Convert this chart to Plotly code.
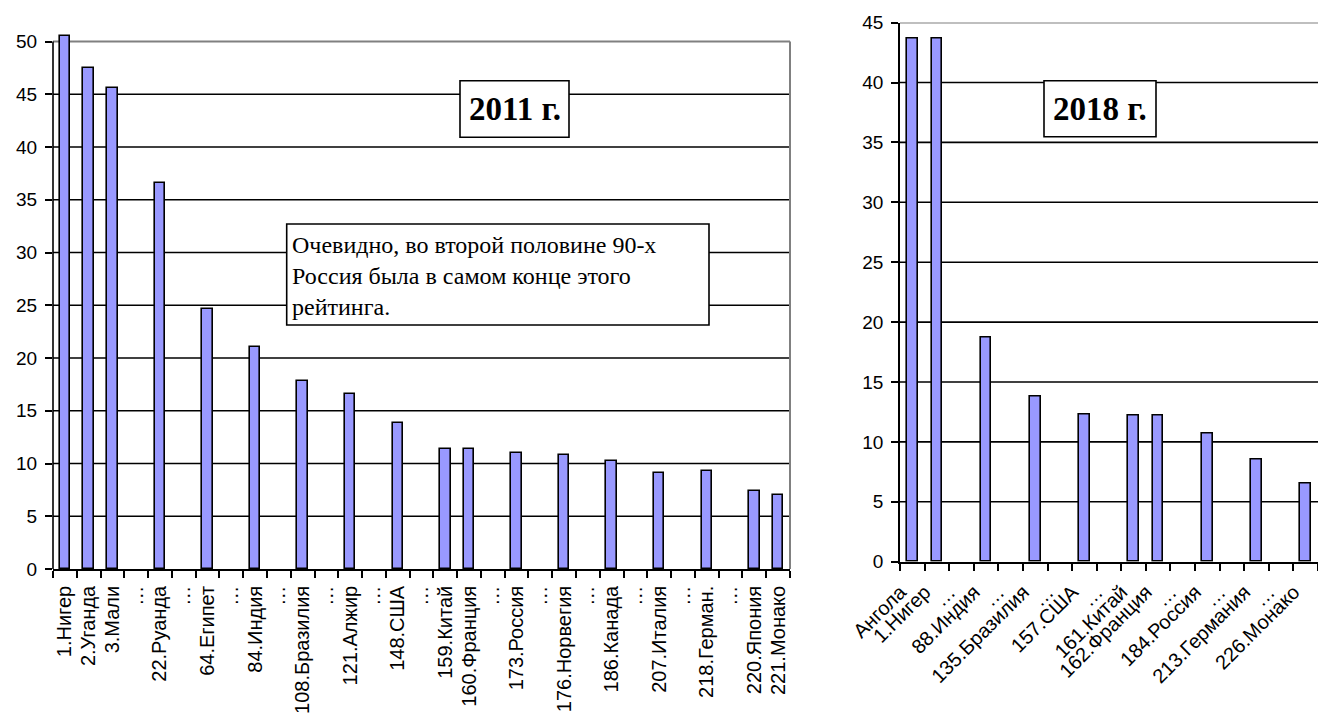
import plotly.graph_objects as go

W, H = 1318, 720

# ---------------- data ----------------
cats_2011 = ["1.Нигер", "2.Уганда", "3.Мали", "…", "22.Руанда", "…", "64.Египет", "…",
             "84.Индия", "…", "108.Бразилия", "…", "121.Алжир", "…", "148.США", "…",
             "159.Китай", "160.Франция", "…", "173.Россия", "…", "176.Норвегия", "…",
             "186.Канада", "…", "207.Италия", "…", "218.Герман.", "…", "220.Япония", "221.Монако"]
vals_2011 = [50.5, 47.5, 45.6, None, 36.6, None, 24.6, None,
             21.0, None, 17.8, None, 16.6, None, 13.8, None,
             11.4, 11.4, None, 11.0, None, 10.8, None,
             10.2, None, 9.1, None, 9.3, None, 7.4, 7.0]

cats_2018 = ["Ангола", "1.Нигер", "…", "88.Индия", "…", "135.Бразилия", "…", "157.США", "…",
             "161.Китай", "162.Франция", "…", "184.Россия", "…", "213.Германия", "…", "226.Монако"]
vals_2018 = [43.7, 43.7, None, 18.7, None, 13.8, None, 12.3, None,
             12.2, 12.2, None, 10.7, None, 8.5, None, 6.5]

yticks_2011 = list(range(0, 51, 5))
yticks_2018 = list(range(0, 46, 5))

label_2011 = "2011 г."
label_2018 = "2018 г."
note_text = "Очевидно, во второй половине 90-х<br>Россия была в самом конце этого<br>рейтинга."

# ---------------- styling helpers ----------------
BAR = "#9999FF"
SANS = "Liberation Sans, Arial, sans-serif"
SERIF = "Liberation Serif, Times New Roman, serif"

def px_x(p):
    return p / W

def px_y(p):
    return 1 - p / H

x1 = list(range(len(cats_2011)))
x2 = list(range(len(cats_2018)))

fig = go.Figure()
fig.add_trace(go.Bar(x=x1, y=vals_2011, width=0.44, xaxis="x", yaxis="y",
                     marker=dict(color=BAR, line=dict(color="black", width=1.6)),
                     hoverinfo="skip"))
fig.add_trace(go.Bar(x=x2, y=vals_2018, width=0.43, xaxis="x2", yaxis="y2",
                     marker=dict(color=BAR, line=dict(color="black", width=1.6)),
                     hoverinfo="skip"))

# left chart geometry (pixels)
L_left, L_right, L_zero, L_top_val = 53, 790, 569, 50.7
L_ppu = (569 - 41.5) / 50.0
L_top_px = L_zero - L_top_val * L_ppu
# right chart geometry
R_left, R_right, R_zero, R_top = 900, 1318, 561.7, 22.6

def xaxis_common(n, labels, angle):
    return dict(
        range=[-0.5, n - 0.5],
        tickmode="array", tickvals=list(range(n)), ticktext=labels,
        ticks="", tickangle=angle, showgrid=False, zeroline=False,
        showline=True, linecolor="black", linewidth=1.6,
        tickfont=dict(family=SANS, size=20, color="black"),
        minor=dict(tickmode="array", tickvals=[i - 0.5 for i in range(n + 1)],
                   ticks="outside", ticklen=7, tickcolor="black", tickwidth=1.5,
                   showgrid=False),
        automargin=False, fixedrange=True,
    )

def yaxis_common(top, vals):
    return dict(
        range=[0, top], tickmode="array", tickvals=vals,
        ticks="outside", ticklen=7, tickcolor="black", tickwidth=1.5,
        showgrid=False, zeroline=False,
        tickfont=dict(family=SANS, size=19, color="black"),
        ticklabelstandoff=4, automargin=False, fixedrange=True,
    )

fig.update_layout(
    width=W, height=H,
    margin=dict(l=0, r=0, t=0, b=0),
    paper_bgcolor="white", plot_bgcolor="white",
    showlegend=False, bargap=0,
    xaxis=dict(domain=[px_x(L_left), px_x(L_right)], anchor="y",
               ticklabelstandoff=7, **xaxis_common(len(cats_2011), cats_2011, -90)),
    yaxis=dict(domain=[px_y(L_zero), px_y(L_top_px)], anchor="x",
               showline=False, **yaxis_common(L_top_val, yticks_2011)),
    xaxis2=dict(domain=[px_x(R_left), px_x(R_right)], anchor="y2",
                ticklabelstandoff=9, ticklabelshift=-12,
                **xaxis_common(len(cats_2018), cats_2018, -45)),
    yaxis2=dict(domain=[px_y(R_zero), px_y(R_top)], anchor="x2",
                showline=True, linecolor="black", linewidth=1.6,
                **yaxis_common(45, yticks_2018)),
)

shapes = []
# gridlines (black) with grey top border, drawn below the bars
for v in yticks_2011[1:]:
    col = "#808080" if v == yticks_2011[-1] else "black"
    shapes.append(dict(type="line", xref="x domain", yref="y", x0=0, x1=1, y0=v, y1=v,
                       line=dict(color=col, width=2 if col != "black" else 1.6), layer="below"))
for v in yticks_2018[1:]:
    col = "#808080" if v == yticks_2018[-1] else "black"
    shapes.append(dict(type="line", xref="x2 domain", yref="y2", x0=0, x1=1, y0=v, y1=v,
                       line=dict(color=col, width=2 if col != "black" else 1.6), layer="below"))
shapes += [
    # left chart: grey right border, black left axis line up to 50
    dict(type="line", xref="x domain", yref="y", x0=1, x1=1, y0=0, y1=yticks_2011[-1],
         line=dict(color="#808080", width=2), layer="below"),
    dict(type="line", xref="x domain", yref="y", x0=0, x1=0, y0=0, y1=yticks_2011[-1],
         line=dict(color="black", width=1.6), layer="above"),
    # annotation boxes
    dict(type="rect", xref="paper", yref="paper",
         x0=px_x(460), x1=px_x(569), y0=px_y(137.3), y1=px_y(80.7),
         fillcolor="white", line=dict(color="black", width=1.6), layer="above"),
    dict(type="rect", xref="paper", yref="paper",
         x0=px_x(1044), x1=px_x(1156), y0=px_y(136.7), y1=px_y(80.7),
         fillcolor="white", line=dict(color="black", width=1.6), layer="above"),
    dict(type="rect", xref="paper", yref="paper",
         x0=px_x(286.7), x1=px_x(709), y0=px_y(325), y1=px_y(224),
         fillcolor="white", line=dict(color="black", width=1.6), layer="above"),
]
fig.update_layout(shapes=shapes)

fig.add_annotation(xref="paper", yref="paper", x=px_x(514.5), y=px_y(109),
                   text="<b>" + label_2011 + "</b>", showarrow=False,
                   xanchor="center", yanchor="middle",
                   font=dict(family=SERIF, size=33, color="black"))
fig.add_annotation(xref="paper", yref="paper", x=px_x(1100), y=px_y(108.7),
                   text="<b>" + label_2018 + "</b>", showarrow=False,
                   xanchor="center", yanchor="middle",
                   font=dict(family=SERIF, size=33, color="black"))
fig.add_annotation(xref="paper", yref="paper", x=px_x(290), y=px_y(275.5),
                   text=note_text, showarrow=False, align="left",
                   xanchor="left", yanchor="middle",
                   font=dict(family=SERIF, size=24, color="black"))

fig.write_html("out.html", config={"displayModeBar": False},
               post_script="document.body.style.margin='0';document.body.style.overflow='hidden';")
